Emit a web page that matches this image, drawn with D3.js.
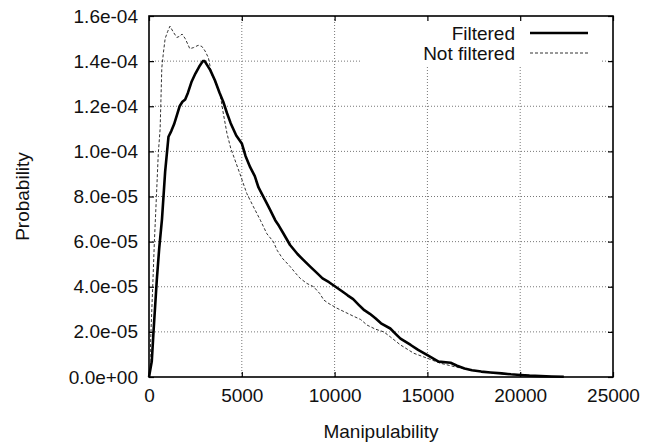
<!DOCTYPE html>
<html>
<head>
<meta charset="utf-8">
<script src="https://cdn.jsdelivr.net/npm/d3@7"></script>
<style>
  body { margin: 0; background: #fff; }
  text { font-family: "Liberation Sans", Arial, sans-serif; fill: #111; }
</style>
</head>
<body>
<div id="chart"></div>
<script>
// manipulability values and probabilities
var filteredX = [0, 150, 250, 420, 550, 700, 870, 1050, 1200, 1350, 1500, 1650, 1800, 1950, 2100, 2300, 2500, 2700, 2900, 3000, 3150, 3300, 3550, 3800, 4000, 4200, 4400, 4700, 5000, 5200, 5450, 5700, 5900, 6250, 6500, 6800, 7000, 7250, 7600, 8000, 8300, 8700, 9000, 9350, 9700, 10050, 10400, 10700, 11000, 11300, 11600, 11900, 12200, 12500, 13000, 13300, 13550, 14100, 14500, 15000, 15600, 16250, 16600, 17000, 17400, 17900, 18400, 19000, 19500, 20000, 20500, 21100, 21700, 22350];
var filteredY = [0, 7e-6, 2.1e-5, 4.3e-5, 5.7e-5, 7.0e-5, 9.1e-5, 1.065e-4, 1.09e-4, 1.12e-4, 1.16e-4, 1.2e-4, 1.22e-4, 1.23e-4, 1.26e-4, 1.31e-4, 1.345e-4, 1.375e-4, 1.4e-4, 1.4e-4, 1.38e-4, 1.36e-4, 1.315e-4, 1.26e-4, 1.22e-4, 1.17e-4, 1.125e-4, 1.07e-4, 1.035e-4, 9.8e-5, 9.3e-5, 8.9e-5, 8.4e-5, 7.85e-5, 7.45e-5, 6.95e-5, 6.7e-5, 6.35e-5, 5.85e-5, 5.45e-5, 5.2e-5, 4.88e-5, 4.65e-5, 4.37e-5, 4.2e-5, 4.0e-5, 3.8e-5, 3.62e-5, 3.45e-5, 3.2e-5, 2.96e-5, 2.8e-5, 2.6e-5, 2.38e-5, 2.15e-5, 1.9e-5, 1.7e-5, 1.42e-5, 1.2e-5, 9.7e-6, 6.8e-6, 6.3e-6, 5e-6, 3.8e-6, 3.0e-6, 2.4e-6, 2.0e-6, 1.6e-6, 1.2e-6, 9e-7, 6e-7, 4e-7, 2e-7, 1e-7];

var notFilteredX = [0, 50, 110, 200, 290, 400, 500, 600, 690, 780, 870, 1000, 1130, 1300, 1500, 1650, 1780, 1950, 2200, 2400, 2650, 2850, 3020, 3200, 3380, 3600, 3830, 4000, 4200, 4400, 4900, 5270, 5630, 6000, 6350, 6700, 6900, 7200, 7600, 7900, 8150, 8500, 8870, 9200, 9420, 9700, 10100, 10500, 11000, 11400, 11750, 12200, 12650, 13000, 13550, 14270, 15000, 15700, 16600, 17500, 18770, 19850, 20800, 21600, 22300];
var notFilteredY = [0, 6e-6, 2.1e-5, 4e-5, 6e-5, 8e-5, 9.9e-5, 1.1e-4, 1.37e-4, 1.44e-4, 1.5e-4, 1.53e-4, 1.555e-4, 1.53e-4, 1.505e-4, 1.51e-4, 1.52e-4, 1.5e-4, 1.455e-4, 1.46e-4, 1.47e-4, 1.465e-4, 1.445e-4, 1.415e-4, 1.34e-4, 1.3e-4, 1.255e-4, 1.17e-4, 1.08e-4, 1.015e-4, 9.0e-5, 8.13e-5, 7.54e-5, 6.95e-5, 6.35e-5, 6.0e-5, 5.62e-5, 5.25e-5, 4.9e-5, 4.6e-5, 4.37e-5, 4.15e-5, 4.0e-5, 3.7e-5, 3.41e-5, 3.25e-5, 3.06e-5, 2.9e-5, 2.7e-5, 2.55e-5, 2.3e-5, 2.12e-5, 2.0e-5, 1.78e-5, 1.42e-5, 1.05e-5, 8.3e-6, 6.1e-6, 4.3e-6, 2.8e-6, 1.6e-6, 9e-7, 5e-7, 2e-7, 1e-7];

var xTicks = [0, 5000, 10000, 15000, 20000, 25000];
var yTicks = [0, 2e-5, 4e-5, 6e-5, 8e-5, 1e-4, 1.2e-4, 1.4e-4, 1.6e-4];
var seriesNames = ["Filtered", "Not filtered"];

(function() {
	var width = 653,
		height = 445;
	var margin = {left: 149, right: 40, top: 16, bottom: 68};

	var svg = d3.select("#chart")
		.append("svg")
		.attr("width", width)
		.attr("height", height);

	var x = d3.scaleLinear()
		.domain([0, 25000])
		.range([margin.left, width - margin.right]);

	var y = d3.scaleLinear()
		.domain([0, 1.6e-4])
		.range([height - margin.bottom, margin.top]);

	// gnuplot style exponent labels
	function expFormat(d) {
		return d3.format(".1e")(d).replace(/e([+-])(\d)$/, "e$10$2");
	}

	// dotted grid
	var grid = svg.append("g").attr("class", "grid");
	grid.selectAll(".gx")
		.data(xTicks.slice(1, -1))
		.enter().append("line")
		.attr("x1", function(d) { return x(d); })
		.attr("x2", function(d) { return x(d); })
		.attr("y1", y(0))
		.attr("y2", y(1.6e-4))
		.attr("stroke", "#777")
		.attr("stroke-width", 1)
		.attr("stroke-dasharray", "1,2");
	grid.selectAll(".gy")
		.data(yTicks.slice(1, -1))
		.enter().append("line")
		.attr("x1", x(0))
		.attr("x2", x(25000))
		.attr("y1", function(d) { return y(d); })
		.attr("y2", function(d) { return y(d); })
		.attr("stroke", "#777")
		.attr("stroke-width", 1)
		.attr("stroke-dasharray", "1,2");

	// key box hides the grid behind it
	svg.append("rect")
		.attr("x", 360)
		.attr("y", y(1.6e-4) + 1)
		.attr("width", 240)
		.attr("height", 48)
		.attr("fill", "#fff");

	// axes with inward ticks, mirrored
	var xAxis = d3.axisBottom(x).tickValues(xTicks).tickSize(-5).tickPadding(12).tickFormat(d3.format("d"));
	var yAxis = d3.axisLeft(y).tickValues(yTicks).tickSize(-5).tickPadding(11).tickFormat(expFormat);

	svg.append("g")
		.attr("transform", "translate(0," + y(0) + ")")
		.call(xAxis);
	svg.append("g")
		.attr("transform", "translate(" + x(0) + ",0)")
		.call(yAxis);
	svg.append("g")
		.attr("transform", "translate(0," + y(1.6e-4) + ")")
		.call(d3.axisTop(x).tickValues(xTicks).tickSize(-5).tickFormat(""));
	svg.append("g")
		.attr("transform", "translate(" + x(25000) + ",0)")
		.call(d3.axisRight(y).tickValues(yTicks).tickSize(-5).tickFormat(""));

	svg.selectAll(".domain").remove();
	svg.selectAll(".tick line").attr("stroke", "#000").attr("stroke-width", 1.2);
	svg.selectAll(".tick text")
		.style("font-size", "19px")
		.attr("fill", "#111");

	svg.append("rect")
		.attr("x", x(0))
		.attr("y", y(1.6e-4))
		.attr("width", x(25000) - x(0))
		.attr("height", y(0) - y(1.6e-4))
		.attr("fill", "none")
		.attr("stroke", "#000")
		.attr("stroke-width", 1.6);

	// curves
	var line = d3.line()
		.x(function(d) { return x(d[0]); })
		.y(function(d) { return y(d[1]); });

	var notFiltered = notFilteredX.map(function(v, i) { return [v, notFilteredY[i]]; });
	var filtered = filteredX.map(function(v, i) { return [v, filteredY[i]]; });

	svg.append("path")
		.datum(notFiltered)
		.attr("d", line)
		.attr("fill", "none")
		.attr("stroke", "#333")
		.attr("stroke-width", 1)
		.attr("stroke-dasharray", "3,2");

	svg.append("path")
		.datum(filtered)
		.attr("d", line)
		.attr("fill", "none")
		.attr("stroke", "#000")
		.attr("stroke-width", 2.6)
		.attr("stroke-linejoin", "round");

	// key
	var key = svg.append("g");
	seriesNames.forEach(function(name, i) {
		var ky = 33 + i * 20;
		key.append("text")
			.attr("x", 515)
			.attr("y", ky)
			.attr("dy", "0.35em")
			.attr("text-anchor", "end")
			.style("font-size", "19px")
			.text(name);
		key.append("line")
			.attr("x1", 530)
			.attr("x2", 588)
			.attr("y1", ky)
			.attr("y2", ky)
			.attr("stroke", i === 0 ? "#000" : "#333")
			.attr("stroke-width", i === 0 ? 2.6 : 1)
			.attr("stroke-dasharray", i === 0 ? null : "3,2");
	});

	// axis titles
	svg.append("text")
		.attr("x", (x(0) + x(25000)) / 2)
		.attr("y", 438)
		.attr("text-anchor", "middle")
		.style("font-size", "19px")
		.text("Manipulability");

	svg.append("text")
		.attr("transform", "translate(29," + ((y(0) + y(1.6e-4)) / 2) + ") rotate(-90)")
		.attr("text-anchor", "middle")
		.style("font-size", "19px")
		.text("Probability");
})();
</script>
</body>
</html>
